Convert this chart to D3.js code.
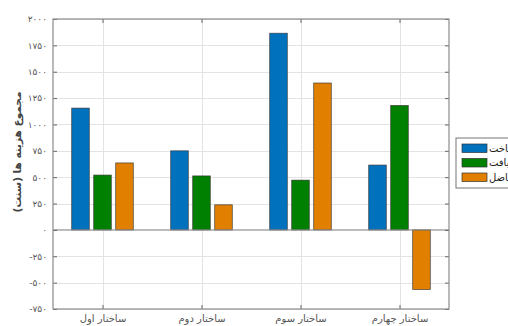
<!DOCTYPE html>
<html>
<head>
<meta charset="utf-8">
<script src="https://cdn.jsdelivr.net/npm/d3@7"></script>
<style>
  html, body { margin: 0; padding: 0; background: #fff; overflow: hidden; }
  svg { display: block; font-family: "DejaVu Sans", sans-serif; }
</style>
</head>
<body>
<svg id="chart" width="508" height="326"></svg>
<script>
// Categories and series (cost totals, in cents)
const categories = ["ساختار اول", "ساختار دوم", "ساختار سوم", "ساختار چهارم"];
const seriesNames = ["هزینه ساخت", "هزینه دریافت", "تفاضل"];
const buildCost   = [1155, 750, 1865, 615];
const receiveCost = [520, 512, 472, 1180];
const difference  = [635, 238, 1393, -565];
const yTicks = [-750, -500, -250, 0, 250, 500, 750, 1000, 1250, 1500, 1750, 2000];
const colors = ["#0072BD", "#008000", "#E17F00"];

const series = [buildCost, receiveCost, difference];
const toFa = v => (v < 0 ? "-" : "") + String(Math.abs(v)).replace(/\d/g, d => "۰۱۲۳۴۵۶۷۸۹"[d]);

const svg = d3.select("#chart");
const m = { left: 53, top: 19, right: 449, bottom: 309 };

const x = d3.scaleLinear().domain([0.5, 4.5]).range([m.left, m.right]);
const y = d3.scaleLinear().domain([-750, 2000]).range([m.bottom, m.top]);

// grid
const grid = svg.append("g").attr("stroke", "#e3e3e3").attr("stroke-width", 1);
grid.selectAll(".gy").data(yTicks).join("line")
  .attr("x1", m.left).attr("x2", m.right)
  .attr("y1", d => Math.round(y(d)) + 0.5).attr("y2", d => Math.round(y(d)) + 0.5);
grid.selectAll(".gx").data(categories).join("line")
  .attr("y1", m.top).attr("y2", m.bottom)
  .attr("x1", (d, i) => Math.round(x(i + 1)) + 0.5).attr("x2", (d, i) => Math.round(x(i + 1)) + 0.5);

// bars
const groupWidth = Math.min(0.8, 3 / (3 + 1.5));
const slot = groupWidth / 3;
const barW = slot * 0.8;
series.forEach((vals, s) => {
  svg.append("g").selectAll("rect").data(vals).join("rect")
    .attr("x", (d, i) => x(i + 1 + (s - 1) * slot - barW / 2))
    .attr("width", x(barW) - x(0))
    .attr("y", d => y(Math.max(d, 0)))
    .attr("height", d => Math.abs(y(d) - y(0)))
    .attr("fill", colors[s])
    .attr("stroke", "#333")
    .attr("stroke-opacity", 0.8)
    .attr("stroke-width", 0.8);
});

// baseline at zero
svg.append("line")
  .attr("x1", m.left).attr("x2", m.right)
  .attr("y1", y(0)).attr("y2", y(0))
  .attr("stroke", "#8a8a8a").attr("stroke-width", 1);

// axes (ticks inside, mirrored on top and right)
const axisColor = "#8c8c8c";
const yAxisL = d3.axisLeft(y).tickValues(yTicks).tickSizeInner(-4).tickSizeOuter(0).tickPadding(6).tickFormat(toFa);
const gL = svg.append("g").attr("transform", `translate(${m.left},0)`).call(yAxisL);
const yAxisR = d3.axisRight(y).tickValues(yTicks).tickSizeInner(-4).tickSizeOuter(0).tickFormat("");
const gR = svg.append("g").attr("transform", `translate(${m.right},0)`).call(yAxisR);
const xAxisB = d3.axisBottom(x).tickValues([1, 2, 3, 4]).tickSizeInner(-4).tickSizeOuter(0).tickPadding(6)
  .tickFormat((d) => categories[d - 1]);
const gB = svg.append("g").attr("transform", `translate(0,${m.bottom})`).call(xAxisB);
const xAxisT = d3.axisTop(x).tickValues([1, 2, 3, 4]).tickSizeInner(-4).tickSizeOuter(0).tickFormat("");
const gT = svg.append("g").attr("transform", `translate(0,${m.top})`).call(xAxisT);

[gL, gR, gB, gT].forEach(g => {
  g.select(".domain").remove();
  g.selectAll(".tick line").attr("stroke", "#666");
  g.selectAll("text").attr("fill", "#555").style("font-family", "DejaVu Sans, sans-serif");
});
gL.selectAll("text").style("font-size", "9px");
gB.selectAll("text").style("font-size", "10px");

// box
svg.append("rect")
  .attr("x", m.left).attr("y", m.top)
  .attr("width", m.right - m.left).attr("height", m.bottom - m.top)
  .attr("fill", "none").attr("stroke", axisColor).attr("stroke-width", 1.2);

// y label
svg.append("text")
  .attr("transform", `translate(18,${152}) rotate(-90)`)
  .attr("text-anchor", "middle")
  .attr("dominant-baseline", "middle")
  .attr("fill", "#444")
  .style("font-size", "10.5px")
  .style("font-weight", "bold")
  .text("مجموع هزینه ها (سنت)");

// legend
const leg = svg.append("g").attr("transform", "translate(456,138)");
leg.append("rect").attr("width", 120).attr("height", 50)
  .attr("fill", "#fff").attr("stroke", "#777").attr("stroke-width", 1);
seriesNames.forEach((name, i) => {
  leg.append("rect")
    .attr("x", 6).attr("y", 6 + i * 14.5)
    .attr("width", 25).attr("height", 8.5)
    .attr("fill", colors[i]).attr("stroke", "#333").attr("stroke-width", 0.7);
  leg.append("text")
    .attr("x", 33).attr("y", 10.5 + i * 14.5)
    .attr("dominant-baseline", "middle")
    .attr("fill", "#222")
    .style("font-size", "10px")
    .text(name);
});
</script>
</body>
</html>
